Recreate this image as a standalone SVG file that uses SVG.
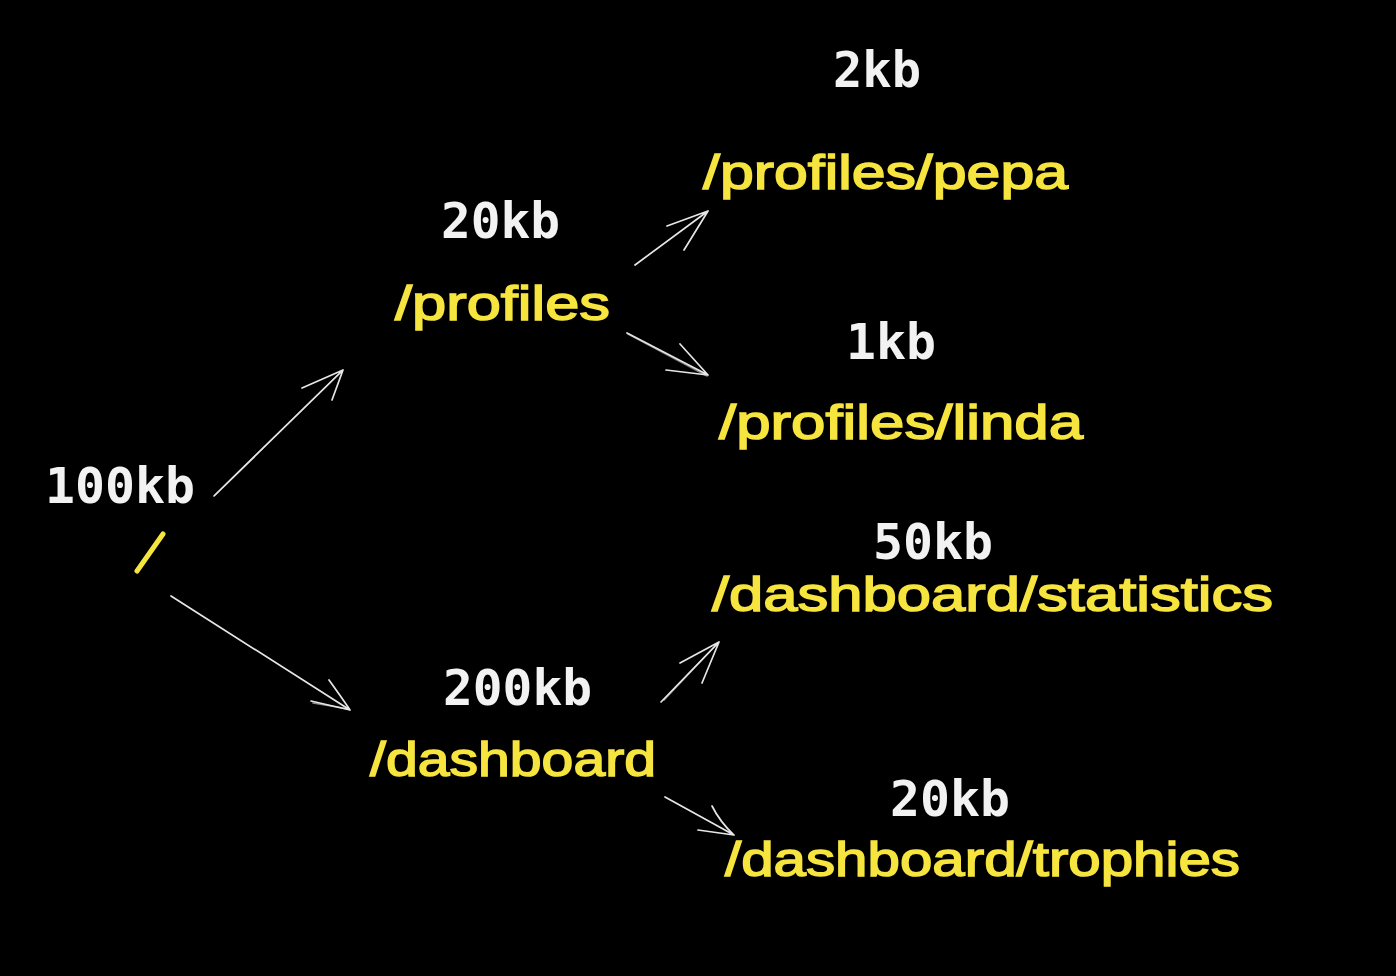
<svg xmlns="http://www.w3.org/2000/svg" width="1396" height="976" viewBox="0 0 1396 976">
<style>
.size{font-family:"DejaVu Sans Mono","Liberation Mono",monospace;font-size:49px;font-weight:bold;fill:#f2f2f2}
.route{font-family:"Liberation Sans","Noto Sans",sans-serif;font-size:48px;fill:#f7e53f;stroke:#f7e53f;stroke-width:1.5}
.arr{fill:none;stroke:#e6e6e6;stroke-width:1.7;stroke-linecap:round;stroke-linejoin:round}
</style>
<rect width="1396" height="976" fill="#000"/>
<g id="root">
<text class="size" x="45" y="503" textLength="150" lengthAdjust="spacingAndGlyphs">100kb</text>
<path d="M137 571 L163 534" stroke="#f7e53f" stroke-width="5" stroke-linecap="round" fill="none"/>
</g>
<g id="profiles">
<text class="size" x="441" y="238" textLength="119" lengthAdjust="spacingAndGlyphs">20kb</text>
<text class="route" x="395" y="320" textLength="215" lengthAdjust="spacingAndGlyphs">/profiles</text>
</g>
<g id="profiles-pepa">
<text class="size" x="833" y="87" textLength="88" lengthAdjust="spacingAndGlyphs">2kb</text>
<text class="route" x="703" y="189" textLength="365" lengthAdjust="spacingAndGlyphs">/profiles/pepa</text>
</g>
<g id="profiles-linda">
<text class="size" x="846" y="359" textLength="90" lengthAdjust="spacingAndGlyphs">1kb</text>
<text class="route" x="719" y="439" textLength="364" lengthAdjust="spacingAndGlyphs">/profiles/linda</text>
</g>
<g id="dashboard">
<text class="size" x="443" y="705" textLength="149" lengthAdjust="spacingAndGlyphs">200kb</text>
<text class="route" x="370" y="776" textLength="286" lengthAdjust="spacingAndGlyphs">/dashboard</text>
</g>
<g id="dashboard-statistics">
<text class="size" x="873" y="559" textLength="120" lengthAdjust="spacingAndGlyphs">50kb</text>
<text class="route" x="712" y="611" textLength="561" lengthAdjust="spacingAndGlyphs">/dashboard/statistics</text>
</g>
<g id="dashboard-trophies">
<text class="size" x="890" y="816" textLength="120" lengthAdjust="spacingAndGlyphs">20kb</text>
<text class="route" x="725" y="876" textLength="515" lengthAdjust="spacingAndGlyphs">/dashboard/trophies</text>
</g>
<g id="connectors">
<path class="arr" d="M214 496 L343 370 M302 388 L343 370 L332 400"/>
<path class="arr" d="M215 495 L342 371" opacity="0.5"/>
<path class="arr" d="M635 265 L708 211 M667 226 L708 211 L684 250"/>
<path class="arr" d="M627 333 L708 375 M680 344 L708 375 L666 370"/>
<path class="arr" d="M628 334 L707 376" opacity="0.5"/>
<path class="arr" d="M171 596 L350 710 M329 680 Q342 698 350 710 L311 701"/>
<path class="arr" d="M313 703 L349 709" opacity="0.6"/>
<path class="arr" d="M661 702 L719 642 M680 663 L719 642 L702 683"/>
<path class="arr" d="M664 700 L718 643" opacity="0.6"/>
<path class="arr" d="M665 797 L734 835 M712 806 Q720 822 734 835 L698 830"/>
</g>
</svg>
